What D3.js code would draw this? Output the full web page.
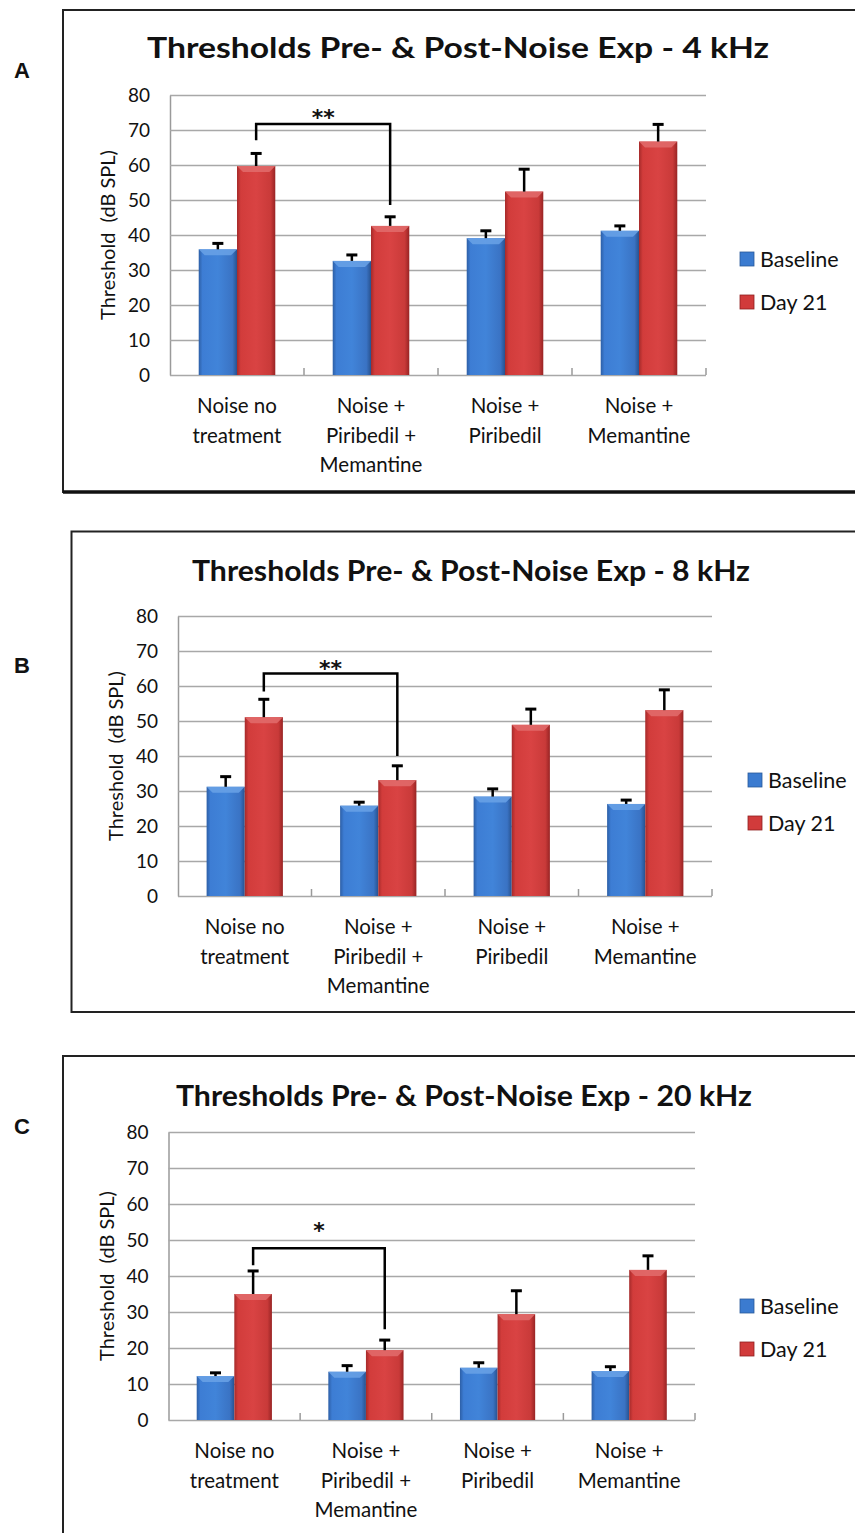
<!DOCTYPE html>
<html>
<head>
<meta charset="utf-8">
<script src="https://cdn.jsdelivr.net/npm/d3@7"></script>
<style>
  html, body { margin: 0; padding: 0; background: #fff; }
  svg { display: block; }
  text { font-family: Lato, "Open Sans", sans-serif; fill: #111; }
</style>
</head>
<body>
<svg id="chart" width="855" height="1533"></svg>
<script>
// ---------------- DATA ----------------
const categories = [
  ["Noise no", "treatment"],
  ["Noise +", "Piribedil +", "Memantine"],
  ["Noise +", "Piribedil"],
  ["Noise +", "Memantine"]
];
const seriesNames = ["Baseline", "Day 21"];
const yTicks = [0, 10, 20, 30, 40, 50, 60, 70, 80];
const panelLetters = ["A", "B", "C"];
const titles = [
  "Thresholds Pre- & Post-Noise Exp - 4 kHz",
  "Thresholds Pre- & Post-Noise Exp - 8 kHz",
  "Thresholds Pre- & Post-Noise Exp - 20 kHz"
];
const yAxisTitle = "Threshold  (dB SPL)";

// 4 kHz
const baseline4k    = [35.9, 32.6, 39.1, 41.2];
const baseline4kErr = [1.7, 1.7, 2.1, 1.4];
const day21_4k      = [59.7, 42.6, 52.4, 66.7];
const day21_4kErr   = [3.6, 2.6, 6.4, 4.9];
// 8 kHz
const baseline8k    = [31.2, 25.8, 28.4, 26.3];
const baseline8kErr = [2.9, 1.0, 2.2, 1.1];
const day21_8k      = [51.1, 33.1, 48.9, 53.1];
const day21_8kErr   = [5.1, 4.1, 4.5, 5.8];
// 20 kHz
const baseline20k    = [12.2, 13.4, 14.5, 13.6];
const baseline20kErr = [0.9, 1.7, 1.4, 1.2];
const day21_20k      = [35.0, 19.4, 29.4, 41.7];
const day21_20kErr   = [6.4, 2.8, 6.5, 3.9];

// significance brackets: [level, leftDrop, rightDrop], label, label level
const bracket4k  = [71.7, 67.1, 48.6]; const star4k  = "**"; const starLevel4k  = 75.0;
const bracket8k  = [63.6, 58.4, 40.0]; const star8k  = "**"; const starLevel8k  = 66.2;
const bracket20k = [47.7, 43.0, 25.2]; const star20k = "*";  const starLevel20k = 54.0;

// ---------------- LAYOUT ----------------
const panels = [
  { base: baseline4k, baseErr: baseline4kErr, day: day21_4k, dayErr: day21_4kErr,
    bracket: bracket4k, star: star4k, starLevel: starLevel4k,
    box: {x: 63, y: 10, w: 820, h: 482}, thickBottom: true,
    plot: {left: 170, right: 706, top: 95, bottom: 375},
    titleX: 458, titleY: 58, titleW: 622, legendX: 740, legendY: [259, 302], letterY: 70 },
  { base: baseline8k, baseErr: baseline8kErr, day: day21_8k, dayErr: day21_8kErr,
    bracket: bracket8k, star: star8k, starLevel: starLevel8k,
    box: {x: 71.5, y: 531.5, w: 820, h: 480.5}, thickBottom: false,
    plot: {left: 178, right: 712, top: 616, bottom: 896},
    titleX: 471, titleY: 581, titleW: 558, legendX: 748, legendY: [780, 823], letterY: 665 },
  { base: baseline20k, baseErr: baseline20kErr, day: day21_20k, dayErr: day21_20kErr,
    bracket: bracket20k, star: star20k, starLevel: starLevel20k,
    box: {x: 63, y: 1056, w: 820, h: 520}, thickBottom: false,
    plot: {left: 168.5, right: 695, top: 1132, bottom: 1420},
    titleX: 464, titleY: 1106, titleW: 576, legendX: 740, legendY: [1306, 1349], letterY: 1126 }
];

const svg = d3.select("#chart");
const defs = svg.append("defs");

function makeGrad(id, stops) {
  const g = defs.append("linearGradient").attr("id", id)
    .attr("x1", "0%").attr("x2", "100%").attr("y1", "0%").attr("y2", "0%");
  stops.forEach(s => g.append("stop").attr("offset", s[0]).attr("stop-color", s[1]));
}
makeGrad("gBlue", [["0%", "#2d5fa6"], ["10%", "#3d7dd4"], ["50%", "#4184d9"], ["88%", "#3a73c4"], ["100%", "#28528f"]]);
makeGrad("gRed",  [["0%", "#a52a2a"], ["10%", "#d23c3b"], ["50%", "#d94343"], ["88%", "#c93a39"], ["100%", "#982424"]]);
const fills = ["url(#gBlue)", "url(#gRed)"];
const bevelFills = ["#6aa2e6", "#e26c6c"];
const legendFills = ["#3b7bd0", "#d13b3b"];

panels.forEach((p, pi) => {
  const g = svg.append("g");

  // frame
  g.append("rect")
    .attr("x", p.box.x).attr("y", p.box.y).attr("width", p.box.w).attr("height", p.box.h)
    .attr("fill", "none").attr("stroke", "#222").attr("stroke-width", 2);
  if (p.thickBottom) {
    g.append("line").attr("x1", p.box.x).attr("x2", p.box.x + p.box.w)
      .attr("y1", p.box.y + p.box.h).attr("y2", p.box.y + p.box.h)
      .attr("stroke", "#111").attr("stroke-width", 3.5);
  }

  // panel letter
  svg.append("text").attr("x", 22).attr("y", p.letterY).attr("text-anchor", "middle")
    .attr("dominant-baseline", "central")
    .style("font-family", "Liberation Sans, Arial, sans-serif")
    .style("font-weight", "bold").style("font-size", "22px").text(panelLetters[pi]);

  // title
  g.append("text").attr("x", p.titleX).attr("y", p.titleY).attr("text-anchor", "middle")
    .attr("textLength", p.titleW).attr("lengthAdjust", "spacingAndGlyphs")
    .style("font-weight", "bold").style("font-size", "28px").text(titles[pi]);

  const x = d3.scaleBand().domain(d3.range(categories.length))
    .range([p.plot.left, p.plot.right]).paddingInner(0).paddingOuter(0);
  const x1 = d3.scaleBand().domain(d3.range(seriesNames.length))
    .range([0, x.bandwidth()]).paddingInner(0).paddingOuter(0.75);
  const y = d3.scaleLinear().domain([0, 80]).range([p.plot.bottom, p.plot.top]);
  const w = p.plot.right - p.plot.left;

  // gridlines + y axis
  const yAxis = d3.axisLeft(y).tickValues(yTicks).tickSize(-w).tickSizeOuter(0).tickPadding(20);
  const ya = g.append("g").attr("transform", `translate(${p.plot.left},0)`).call(yAxis);
  ya.select(".domain").attr("stroke", "#9a9a9a").attr("stroke-width", 1.5);
  ya.selectAll(".tick line").attr("stroke", "#a8a8a8").attr("stroke-width", 1.5);
  ya.selectAll(".tick text").style("font-size", "19px").attr("fill", "#222")
    .style("font-family", "Lato, sans-serif");

  // category ticks (inward)
  const bounds = d3.range(categories.length).map(i => x(i) + x.bandwidth());
  g.selectAll(null).data(bounds).enter().append("line")
    .attr("x1", d => d).attr("x2", d => d)
    .attr("y1", p.plot.bottom).attr("y2", p.plot.bottom - 7)
    .attr("stroke", "#9a9a9a").attr("stroke-width", 1.5);

  // y axis title
  g.append("text")
    .attr("transform", `translate(${p.plot.left - 63},${(p.plot.top + p.plot.bottom) / 2}) rotate(-90)`)
    .attr("text-anchor", "middle").attr("dominant-baseline", "central")
    .style("white-space", "pre")
    .style("font-size", "20px").text(yAxisTitle);

  // bars
  const rows = [];
  categories.forEach((c, i) => {
    rows.push({cat: i, s: 0, v: p.base[i], e: p.baseErr[i]});
    rows.push({cat: i, s: 1, v: p.day[i], e: p.dayErr[i]});
  });
  const bw = x1.bandwidth();
  const bars = g.selectAll(null).data(rows).enter().append("g");
  bars.append("rect")
    .attr("x", d => x(d.cat) + x1(d.s)).attr("y", d => y(d.v))
    .attr("width", bw).attr("height", d => y(0) - y(d.v))
    .attr("fill", d => fills[d.s]);
  const bev = 6;
  bars.append("path")
    .attr("d", d => {
      const x0 = x(d.cat) + x1(d.s), y0 = y(d.v);
      return `M${x0},${y0}L${x0 + bw},${y0}L${x0 + bw - bev},${y0 + bev}L${x0 + bev},${y0 + bev}Z`;
    })
    .attr("fill", d => bevelFills[d.s]).attr("opacity", 0.85);

  // error bars (upward only)
  bars.append("line")
    .attr("x1", d => x(d.cat) + x1(d.s) + bw / 2).attr("x2", d => x(d.cat) + x1(d.s) + bw / 2)
    .attr("y1", d => y(d.v)).attr("y2", d => y(d.v + d.e))
    .attr("stroke", "#000").attr("stroke-width", 2.5);
  bars.append("line")
    .attr("x1", d => x(d.cat) + x1(d.s) + bw / 2 - 5.5).attr("x2", d => x(d.cat) + x1(d.s) + bw / 2 + 5.5)
    .attr("y1", d => y(d.v + d.e)).attr("y2", d => y(d.v + d.e))
    .attr("stroke", "#000").attr("stroke-width", 3);

  // bracket between day21 of category 0 and category 1
  const bx0 = x(0) + x1(1) + bw / 2, bx1 = x(1) + x1(1) + bw / 2;
  g.append("path")
    .attr("d", `M${bx0},${y(p.bracket[1])}L${bx0},${y(p.bracket[0])}L${bx1},${y(p.bracket[0])}L${bx1},${y(p.bracket[2])}`)
    .attr("fill", "none").attr("stroke", "#000").attr("stroke-width", 2.5);
  g.append("text").attr("x", (bx0 + bx1) / 2).attr("y", y(p.starLevel) + 12)
    .attr("text-anchor", "middle")
    .style("font-family", "DejaVu Sans, sans-serif")
    .style("font-size", "22px").style("font-weight", "bold")
    .text(p.star);

  // x labels
  const xl = g.selectAll(null).data(categories).enter().append("text")
    .attr("text-anchor", "middle").style("font-size", "20.5px");
  xl.selectAll("tspan").data((d, i) => d.map(t => ({t, i}))).enter().append("tspan")
    .attr("x", d => x(d.i) + x.bandwidth() / 2)
    .attr("y", (d, j) => p.plot.bottom + 30 + j * 29.5)
    .attr("dominant-baseline", "central")
    .text(d => d.t);

  // legend
  seriesNames.forEach((s, si) => {
    g.append("rect").attr("x", p.legendX).attr("y", p.legendY[si] - 7)
      .attr("width", 14).attr("height", 14).attr("fill", legendFills[si])
      .attr("stroke", si === 0 ? "#2a5a9a" : "#8f2020").attr("stroke-width", 0.8);
    g.append("text").attr("x", p.legendX + 20).attr("y", p.legendY[si])
      .attr("dominant-baseline", "central").style("font-size", "21.5px").text(s);
  });
});
</script>
</body>
</html>
